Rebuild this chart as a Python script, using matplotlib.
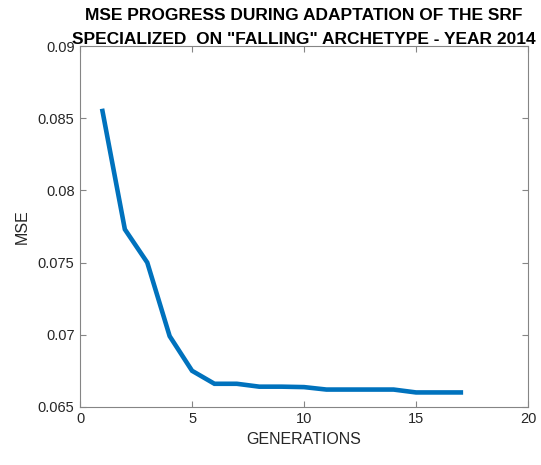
import matplotlib
matplotlib.use("Agg")
import matplotlib.pyplot as plt

generations = list(range(1, 18))
mse = [0.0855, 0.0773, 0.0750, 0.0699, 0.0675, 0.0666, 0.0666, 0.0664, 0.0664,
       0.06637, 0.0662, 0.0662, 0.0662, 0.0662, 0.0660, 0.0660, 0.0660]
xticks = [0, 5, 10, 15, 20]
yticks = [0.065, 0.07, 0.075, 0.08, 0.085, 0.09]
ytick_labels = ["0.065", "0.07", "0.075", "0.08", "0.085", "0.09"]

plt.rcParams['font.family'] = ['Liberation Sans', 'DejaVu Sans']
fig = plt.figure(figsize=(5.41, 4.65), dpi=100)
ax = fig.add_axes([0.148, 0.125, 0.828, 0.776])
ax.plot(generations, mse, color='#0072BD', linewidth=3.3, solid_joinstyle='miter')
ax.set_xlim(0, 20)
ax.set_ylim(0.065, 0.09)
ax.set_xticks(xticks)
ax.set_xticklabels([str(t) for t in xticks])
ax.set_yticks(yticks)
ax.set_yticklabels(ytick_labels)
for s in ax.spines.values():
    s.set_color('#858585')
    s.set_linewidth(0.8)
ax.tick_params(direction='in', length=4, width=0.8, color='#858585',
               labelsize=10.5, labelcolor='#262626', top=True, right=True, pad=4)
ax.set_xlabel('GENERATIONS', fontsize=11.5, color='#262626', labelpad=4)
ax.set_ylabel('MSE', fontsize=11.5, color='#262626', labelpad=6)
ax.set_title('MSE PROGRESS DURING ADAPTATION OF THE SRF\nSPECIALIZED  ON "FALLING" ARCHETYPE - YEAR 2014',
             fontsize=12.5, fontweight='bold', color='black', pad=1.5, linespacing=1.75)
fig.savefig('out.png', dpi=100)
